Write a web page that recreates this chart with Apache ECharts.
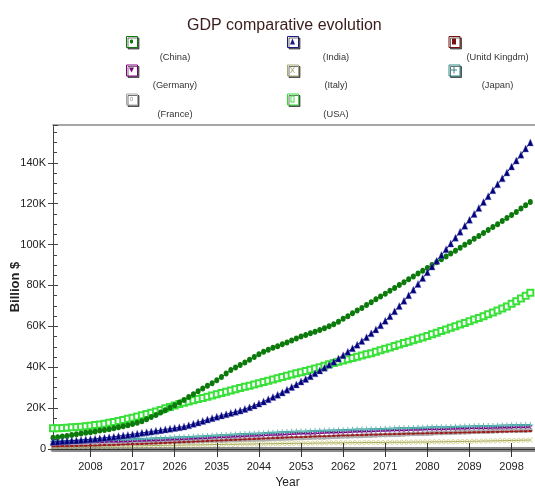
<!DOCTYPE html>
<html>
<head>
<meta charset="utf-8">
<script src="https://cdn.jsdelivr.net/npm/echarts@6/dist/echarts.min.js"></script>
<style>
html,body{margin:0;padding:0;background:#fff;}
#chart{width:535px;height:488px;}
</style>
</head>
<body>
<div id="chart"></div>
<script>
// ---- DATA (GDP in thousands of billion $, one value per year from startYear) ----
const startYear = 2000;
const tickYears = [2008, 2017, 2026, 2035, 2044, 2053, 2062, 2071, 2080, 2089, 2098];
const seriesNames = ['China', 'India', 'Unitd Kingdm', 'Germany', 'Italy', 'Japan', 'France', 'USA'];

const chinaGDP = [
  5.5,5.8,6.1,6.4,6.8,7.2,7.6,7.9,8.2,8.6,
  9.0,9.3,9.7,10.1,10.6,11.1,11.6,12.2,12.8,13.6,
  14.6,15.6,16.6,17.8,19.0,20.2,21.4,22.7,24.0,25.4,
  26.8,28.3,29.6,30.9,32.2,33.6,35.2,36.9,38.6,39.9,
  41.1,42.3,43.7,45.0,46.3,47.6,48.6,49.5,50.3,51.2,
  52.1,53.1,54.0,55.0,55.8,56.6,57.4,58.2,59.1,60.0,
  61.0,62.3,63.7,65.0,66.4,67.7,69.0,70.4,71.8,73.2,
  74.6,76.0,77.4,78.8,80.2,81.6,83.0,84.4,85.8,87.2,
  88.6,90.0,91.4,92.8,94.2,95.6,97.0,98.4,99.9,101.3,
  102.8,104.2,105.7,107.1,108.6,110.0,111.5,113.0,114.5,116.0,
  117.6,119.2,120.8
];
const indiaGDP = [
  3.5,3.6,3.8,3.9,4.1,4.2,4.4,4.6,4.8,5.0,
  5.2,5.5,5.7,6.0,6.3,6.6,6.9,7.2,7.5,7.9,
  8.2,8.5,8.9,9.2,9.6,9.9,10.3,10.6,11.0,11.6,
  12.3,13.0,13.7,14.4,15.1,15.8,16.4,17.0,17.6,18.2,
  18.8,19.6,20.4,21.3,22.2,23.2,24.3,25.4,26.5,27.7,
  29.0,30.3,31.6,33.0,34.3,35.6,37.0,38.4,39.8,41.2,
  42.7,44.3,45.9,47.6,49.3,51.0,52.8,54.7,56.6,58.5,
  60.5,62.7,65.0,67.4,69.9,72.5,75.2,77.9,80.7,83.6,
  86.5,89.3,92.1,94.9,97.7,100.5,103.4,106.3,109.2,112.1,
  115.0,117.9,120.8,123.7,126.6,129.5,132.4,135.3,138.2,141.1,
  144.0,147.0,150.0
];
const ukGDP = [
  1.3,1.3,1.4,1.4,1.5,1.5,1.6,1.6,1.7,1.7,
  1.8,1.9,1.9,2.0,2.1,2.2,2.3,2.4,2.4,2.5,
  2.6,2.7,2.8,2.9,3.0,3.1,3.2,3.3,3.4,3.5,
  3.6,3.7,3.8,3.9,4.0,4.1,4.2,4.3,4.4,4.5,
  4.6,4.7,4.8,4.9,5.0,5.1,5.2,5.3,5.4,5.5,
  5.6,5.7,5.8,5.8,5.9,6.0,6.1,6.2,6.2,6.3,
  6.4,6.5,6.6,6.6,6.7,6.8,6.8,6.9,7.0,7.0,
  7.1,7.2,7.2,7.3,7.3,7.4,7.5,7.5,7.6,7.6,
  7.7,7.7,7.8,7.8,7.9,7.9,8.0,8.0,8.1,8.1,
  8.2,8.2,8.3,8.3,8.4,8.4,8.5,8.5,8.6,8.6,
  8.7,8.7,8.8
];
const germanyGDP = [
  2.9,2.9,3.0,3.0,3.1,3.1,3.1,3.2,3.2,3.3,
  3.3,3.4,3.5,3.5,3.6,3.7,3.7,3.8,3.9,3.9,
  4.0,4.1,4.2,4.3,4.4,4.5,4.6,4.7,4.8,4.9,
  5.0,5.1,5.2,5.3,5.5,5.6,5.7,5.8,5.9,6.0,
  6.1,6.2,6.3,6.4,6.5,6.6,6.7,6.8,6.9,7.0,
  7.1,7.2,7.3,7.4,7.5,7.5,7.6,7.7,7.8,7.9,
  8.0,8.1,8.1,8.2,8.3,8.4,8.4,8.5,8.6,8.7,
  8.8,8.8,8.9,9.0,9.0,9.1,9.2,9.3,9.3,9.4,
  9.5,9.5,9.6,9.6,9.7,9.8,9.8,9.9,9.9,10.0,
  10.1,10.1,10.2,10.2,10.3,10.3,10.4,10.4,10.5,10.6,
  10.6,10.7,10.8
];
const italyGDP = [
  1.1,1.1,1.1,1.2,1.2,1.2,1.2,1.3,1.3,1.3,
  1.3,1.4,1.4,1.4,1.5,1.5,1.5,1.5,1.6,1.6,
  1.6,1.7,1.7,1.7,1.8,1.8,1.8,1.9,1.9,2.0,
  2.0,2.0,2.1,2.1,2.2,2.2,2.2,2.3,2.3,2.3,
  2.4,2.4,2.4,2.5,2.5,2.5,2.6,2.6,2.6,2.7,
  2.7,2.7,2.8,2.8,2.8,2.8,2.9,2.9,2.9,3.0,
  3.0,3.0,3.0,3.1,3.1,3.1,3.1,3.2,3.2,3.2,
  3.2,3.2,3.3,3.3,3.3,3.3,3.3,3.4,3.4,3.4,
  3.4,3.5,3.5,3.5,3.6,3.6,3.6,3.7,3.7,3.7,
  3.8,3.8,3.9,3.9,4.0,4.0,4.1,4.1,4.2,4.2,
  4.3,4.3,4.4
];
const japanGDP = [
  3.8,3.8,3.9,3.9,4.0,4.0,4.1,4.1,4.2,4.2,
  4.3,4.4,4.4,4.5,4.6,4.6,4.7,4.8,4.9,4.9,
  5.0,5.1,5.2,5.3,5.4,5.5,5.6,5.7,5.8,5.9,
  6.0,6.1,6.2,6.4,6.5,6.6,6.7,6.8,7.0,7.1,
  7.2,7.3,7.4,7.5,7.6,7.7,7.9,8.0,8.1,8.2,
  8.3,8.4,8.5,8.5,8.6,8.7,8.8,8.9,8.9,9.0,
  9.1,9.2,9.2,9.3,9.4,9.5,9.5,9.6,9.7,9.7,
  9.8,9.9,9.9,10.0,10.1,10.2,10.2,10.3,10.4,10.4,
  10.5,10.6,10.6,10.7,10.7,10.8,10.9,10.9,11.0,11.0,
  11.1,11.2,11.2,11.3,11.3,11.4,11.5,11.5,11.6,11.6,
  11.7,11.7,11.8
];
const franceGDP = [
  2.0,2.0,2.1,2.1,2.2,2.2,2.3,2.3,2.4,2.4,
  2.5,2.6,2.6,2.7,2.7,2.8,2.8,2.9,3.0,3.0,
  3.1,3.2,3.2,3.3,3.4,3.4,3.5,3.6,3.7,3.7,
  3.8,3.9,3.9,4.0,4.1,4.1,4.2,4.3,4.4,4.4,
  4.5,4.6,4.6,4.7,4.8,4.8,4.9,5.0,5.1,5.1,
  5.2,5.3,5.4,5.4,5.5,5.6,5.7,5.8,5.8,5.9,
  6.0,6.1,6.2,6.2,6.3,6.4,6.5,6.6,6.6,6.7,
  6.8,6.9,7.0,7.0,7.1,7.2,7.3,7.4,7.4,7.5,
  7.6,7.7,7.8,7.8,7.9,8.0,8.1,8.2,8.2,8.3,
  8.4,8.5,8.5,8.6,8.7,8.8,8.8,8.9,9.0,9.0,
  9.1,9.1,9.2
];
const usaGDP = [
  10.1,10.2,10.3,10.4,10.6,10.8,10.9,11.1,11.4,11.7,
  12.0,12.4,12.8,13.2,13.7,14.2,14.8,15.3,15.9,16.5,
  17.1,17.7,18.4,19.1,19.9,20.6,21.3,22.0,22.6,23.2,
  23.8,24.4,25.0,25.6,26.2,26.8,27.4,28.0,28.6,29.2,
  29.8,30.4,31.0,31.6,32.2,32.8,33.4,34.0,34.6,35.2,
  35.8,36.4,37.0,37.6,38.2,38.8,39.4,40.0,40.7,41.4,
  42.1,42.7,43.3,43.9,44.5,45.1,45.7,46.3,46.9,47.6,
  48.3,49.0,49.7,50.4,51.1,51.8,52.5,53.2,53.9,54.6,
  55.3,56.1,56.9,57.7,58.5,59.3,60.1,60.9,61.7,62.5,
  63.3,64.1,65.0,65.9,66.8,67.7,68.7,69.7,71.0,72.3,
  73.6,75.0,76.4
];

// ---- helpers ----
const sans = "'Liberation Sans', Arial, sans-serif";
const toPairs = arr => arr.map((v, i) => [startYear + i, v]);

// legend marker glyphs: [path, width, height]
const markerIcons = {
  'China': ['M2 0L4 1.2V4.8L2 6L0 4.8V1.2Z', 3, 5],
  'India': ['M3 0L6 7H0Z', 5, 6],
  'Unitd Kingdm': ['M0 0H4V6H0Z', 4, 6],
  'Germany': ['M0 0H6L3 6Z', 5, 5],
  'Italy': ['M0,0L1,0L3,2.6L5,0L6,0L3.6,3.5L6,7L5,7L3,4.4L1,7L0,7L2.4,3.5Z', 5, 6],
  'Japan': ['M2.5,0H3.5V3H6V4H3.5V7H2.5V4H0V3H2.5Z', 6, 7],
  'France': ['M2 0L4 1.2V4.8L2 6L0 4.8V1.2Z M2 1L1 1.6V4.4L2 5L3 4.4V1.6Z', 3, 5],
  'USA': ['M0 0H4V7H0Z M0.9 0.9V6.1H3.1V0.9Z', 4, 7]
};
const iconColors = {
  'China': '#0b7a0b', 'India': '#1a1a80', 'Unitd Kingdm': '#7a1010', 'Germany': '#800080',
  'Italy': '#a8a870', 'Japan': '#2a8a8a', 'France': '#a8a8a8', 'USA': '#33dd33'
};
const legendPos = {
  'China': [126, 36], 'India': [287, 36], 'Unitd Kingdm': [448.5, 36],
  'Germany': [126, 64.5], 'Italy': [287, 64.5], 'Japan': [448.5, 64.5],
  'France': [126, 93.5], 'USA': [287, 93.5]
};
const BOX_SIZE = 11;
function legendBox(name) {
  return {
    show: true, left: legendPos[name][0], top: legendPos[name][1], padding: 0,
    itemWidth: BOX_SIZE, itemHeight: BOX_SIZE, selectedMode: false,
    data: [{
      name: name, icon: 'rect',
      itemStyle: { color: '#ffffff', borderColor: iconColors[name], borderWidth: 1,
        shadowColor: 'rgba(0,0,0,0.55)', shadowBlur: 0, shadowOffsetX: 1.5, shadowOffsetY: 1.5 }
    }],
    formatter: n => '{c|(' + n + ')}',
    textStyle: {
      padding: [30, 0, 0, 0],
      rich: { c: { width: 65, align: 'center', fontSize: 9.3, fontFamily: sans, color: '#333' } }
    }
  };
}
function legendMark(name) {
  const m = markerIcons[name];
  return {
    show: true, left: legendPos[name][0] + (BOX_SIZE - m[1]) / 2, top: legendPos[name][1] + (BOX_SIZE - m[2]) / 2,
    padding: 0, itemWidth: m[1], itemHeight: m[2], selectedMode: false, z: 5,
    data: [{ name: name, icon: 'path://' + m[0], itemStyle: { color: iconColors[name], borderWidth: 0 } }],
    formatter: () => '',
    textStyle: { fontSize: 1 }
  };
}

const plusPath = 'path://M2.5,0H3.5V2.5H6V3.5H3.5V6H2.5V3.5H0V2.5H2.5Z';
const xPath = 'path://M0,0L1,0L3,2.4L5,0L6,0L3.6,3L6,6L5,6L3,3.6L1,6L0,6L2.4,3Z';

const chart = echarts.init(document.getElementById('chart'), null, { renderer: 'canvas' });
const yMax = 158.5;

chart.setOption({
  backgroundColor: '#ffffff',
  animation: false,
  title: {
    text: 'GDP comparative evolution', left: 182, top: 13,
    textStyle: { fontFamily: sans, fontSize: 16, fontWeight: 'normal', color: '#3a1c1c' }
  },
  legend: seriesNames.map(legendBox).concat(seriesNames.map(legendMark)),
  grid: { left: 53, right: 0, top: 125, bottom: 39, containLabel: false, outerBoundsMode: 'none' },
  xAxis: [
    {
      type: 'value', position: 'bottom', min: 2000, max: 2103, z: 3,
      name: 'Year', nameLocation: 'middle', nameGap: 28, nameMoveOverlap: false,
      nameTextStyle: { fontFamily: sans, fontSize: 12, color: '#222', padding: [0, 13, 0, 0] },
      axisLine: { lineStyle: { color: '#333', width: 1 } },
      axisTick: { customValues: tickYears, length: 8, lineStyle: { color: '#333' } },
      axisLabel: { customValues: tickYears, formatter: v => String(v), margin: 12,
        fontFamily: sans, fontSize: 11, color: '#222' },
      splitLine: { show: false }
    },
    {
      type: 'value', position: 'bottom', offset: 3, min: 2000, max: 2103,
      axisLine: { lineStyle: { color: '#8c8c8c', width: 5 } },
      axisTick: { show: false }, axisLabel: { show: false }, splitLine: { show: false }
    },
    {
      type: 'value', position: 'bottom', min: 2000, max: 2103, z: 3,
      axisLine: { show: false },
      axisTick: { customValues: tickYears, inside: true, length: 6, lineStyle: { color: '#333' } },
      axisLabel: { show: false }, splitLine: { show: false }
    },
    {
      type: 'value', position: 'top', min: 2000, max: 2103,
      axisLine: { lineStyle: { color: '#8a8a8a', width: 1.5 } },
      axisTick: { show: false }, axisLabel: { show: false }, splitLine: { show: false }
    }
  ],
  yAxis: [
    {
      type: 'value', position: 'left', min: 0, max: yMax, interval: 20,
      name: 'Billion $', nameLocation: 'middle', nameGap: 31, nameRotate: 90, nameMoveOverlap: false,
      nameTextStyle: { fontFamily: sans, fontSize: 13, fontWeight: 'bold', color: '#222' },
      axisLine: { show: true, lineStyle: { color: '#444', width: 1 } },
      axisTick: { show: true, length: 5, lineStyle: { color: '#444' } },
      axisLabel: { formatter: v => v === 0 ? '0' : v + 'K', margin: 7, showMaxLabel: false,
        fontFamily: sans, fontSize: 11, color: '#222' },
      splitLine: { show: false }
    },
    {
      type: 'value', position: 'left', min: 0, max: yMax, interval: 20,
      axisLine: { show: false },
      axisTick: { show: true, inside: true, length: 5, lineStyle: { color: '#444' } },
      minorTick: { show: true, splitNumber: 4, length: 4, lineStyle: { color: '#444' } },
      axisLabel: { show: false }, splitLine: { show: false }
    }
  ],
  series: [
    { name: 'Italy', type: 'line', data: toPairs(italyGDP), symbol: xPath, symbolSize: 5,
      lineStyle: { color: '#a3a35a', width: 1 }, itemStyle: { color: '#c8c878' }, z: 2 },
    { name: 'France', type: 'line', data: toPairs(franceGDP), symbol: 'emptyCircle', symbolSize: 3,
      lineStyle: { color: '#9a9a9a', width: 4 }, itemStyle: { color: '#b0b0b0' }, z: 2 },
    { name: 'Unitd Kingdm', type: 'line', data: toPairs(ukGDP), symbol: 'rect', symbolSize: [3, 2],
      lineStyle: { color: '#8a3030', width: 1 }, itemStyle: { color: '#a01818' }, z: 3 },
    { name: 'Germany', type: 'line', data: toPairs(germanyGDP), symbol: 'triangle', symbolRotate: 180, symbolSize: 4,
      lineStyle: { color: '#800080', width: 1.5 }, itemStyle: { color: '#900090' }, z: 3 },
    { name: 'Japan', type: 'line', data: toPairs(japanGDP), symbol: plusPath, symbolSize: 6,
      lineStyle: { color: '#108080', width: 2 }, itemStyle: { color: '#6cbcbc' }, z: 4 },
    { name: 'USA', type: 'line', data: toPairs(usaGDP), symbol: 'emptyRect', symbolSize: 6,
      lineStyle: { color: '#3ae03a', width: 1 }, itemStyle: { color: '#3ae03a', borderWidth: 1 }, z: 5 },
    { name: 'China', type: 'line', data: toPairs(chinaGDP), symbol: 'circle', symbolSize: [5, 6],
      lineStyle: { color: '#0b7a0b', width: 1 }, itemStyle: { color: '#0b7a0b' }, z: 6 },
    { name: 'India', type: 'line', data: toPairs(indiaGDP), symbol: 'triangle', symbolSize: [6, 7],
      lineStyle: { color: '#000080', width: 1 }, itemStyle: { color: '#00007a', borderColor: 'rgba(110,110,190,0.7)', borderWidth: 0.6 }, z: 7 }
  ]
});
</script>
</body>
</html>
